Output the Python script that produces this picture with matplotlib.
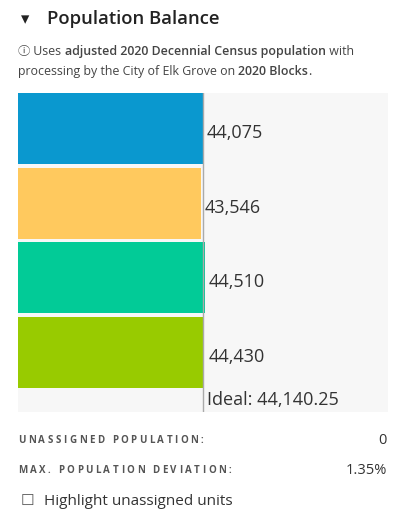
import matplotlib
matplotlib.use("Agg")
import matplotlib.pyplot as plt

# district populations (top to bottom)
districts = ["1", "2", "3", "4"]
population = [44075, 43546, 44510, 44430]
colors = ["#0a98cf", "#ffc95e", "#02cb97", "#98cb00"]
ideal = 44140.25
unassigned = 0
max_deviation = "1.35%"

plt.rcParams["font.family"] = ["Open Sans", "Noto Sans CJK JP", "DejaVu Sans"]

W, H = 401, 523
fig = plt.figure(figsize=(W / 100, H / 100), dpi=100)
fig.patch.set_facecolor("white")


def px(x, y):
    # pixel position (from top-left) -> figure fraction
    return x / W, 1 - y / H


def run(x, y, parts, size, color="#333333"):
    # draw text pieces one after another on one baseline
    r = fig.canvas.get_renderer()
    for s, weight in parts:
        t = fig.text(*px(x, y), s, fontsize=size, fontweight=weight,
                     color=color, va="baseline", ha="left")
        x += t.get_window_extent(renderer=r).width


def spaced(x, y, s, size, color, spacing=2.5):
    # letter-spaced caps label
    r = fig.canvas.get_renderer()
    for ch in s:
        t = fig.text(*px(x, y), ch, fontsize=size, fontweight="bold",
                     color=color, va="baseline", ha="left")
        w = t.get_window_extent(renderer=r).width if ch != " " else size * 0.35
        x += w + spacing


# header
fig.text(*px(21, 24), "\u25be", fontsize=12, color="#222222", va="baseline",
         family="DejaVu Sans")
fig.text(*px(47, 24), "Population Balance", fontsize=13.3, fontweight="semibold",
         color="#222222", va="baseline")
run(18, 55, [("\u24d8", "normal"), (" Uses ", "normal"),
             ("adjusted 2020 Decennial Census population", "semibold"),
             (" with", "normal")], 8.9, "#444444")
run(18, 75, [("processing by the City of Elk Grove on ", "normal"), ("2020 Blocks", "semibold"),
             (".", "normal")], 8.9, "#444444")

# bar chart
ax = fig.add_axes([18 / W, 1 - 412 / H, 370 / W, 319 / H])
ax.set_facecolor("#f7f7f7")
ypos = list(range(len(population)))
ax.barh(ypos, population, height=0.955, color=colors, align="center")
ax.axvline(ideal, color="#aaaaaa", lw=1)
for y, v in zip(ypos, population):
    ax.text(v + 950, y + 0.06, f"{v:,}", fontsize=13, color="#333333",
            va="center", ha="left")
ax.text(ideal + 950, 3.64, f"Ideal: {ideal:,.2f}", fontsize=13, color="#333333",
        va="center", ha="left")
ax.set_xlim(0, 2 * ideal)
ax.set_ylim(3.80, -0.48)
ax.set_xticks([])
ax.set_yticks([])
for sp in ax.spines.values():
    sp.set_visible(False)

# summary
spaced(18, 443, "UNASSIGNED POPULATION:", 7, "#555555")
fig.text(*px(387, 444), str(unassigned), fontsize=10.5, color="#333333",
         va="baseline", ha="right")
spaced(18, 473, "MAX. POPULATION DEVIATION:", 7, "#555555")
fig.text(*px(387, 474), max_deviation, fontsize=10.5, color="#333333",
         va="baseline", ha="right")
fig.text(*px(21, 505), "\u2610", fontsize=11, color="#555555", va="baseline",
         family="DejaVu Sans")
fig.text(*px(44, 505), "Highlight unassigned units", fontsize=11, color="#333333",
         va="baseline")

fig.savefig("out.png", dpi=100, facecolor="white")
